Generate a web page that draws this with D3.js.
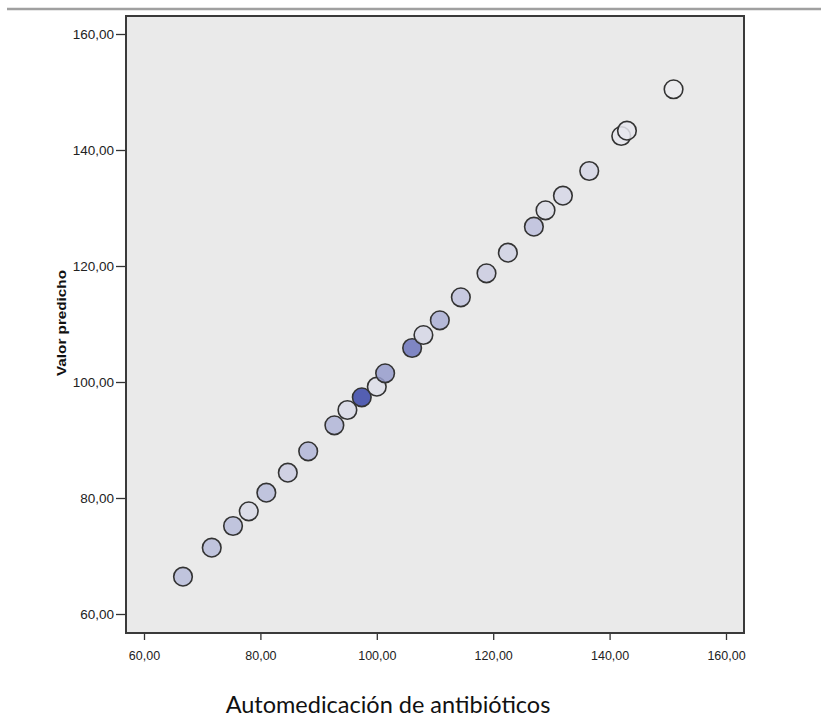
<!DOCTYPE html>
<html>
<head>
<meta charset="utf-8">
<script src="https://cdn.jsdelivr.net/npm/d3@7"></script>
<style>
    body { margin: 0; background: #fff; }
    svg { display: block; }
</style>
</head>
<body>
<div id="chart"></div>
<script>
const observed = [66.70, 71.64, 75.30, 78.00, 81.02, 84.71, 88.21, 92.71, 94.95, 97.42,
    100.00, 101.43, 106.07, 108.01, 110.83, 114.44, 118.85, 122.52, 126.99, 128.99,
    131.98, 136.50, 142.00, 142.98, 150.99];
const predicted = [66.43, 71.43, 75.17, 77.71, 80.91, 84.36, 88.05, 92.53, 95.17, 97.36,
    99.19, 101.50, 105.86, 108.10, 110.64, 114.60, 118.74, 122.30, 126.78, 129.60,
    132.12, 136.38, 142.41, 143.33, 150.47];
// shading intensity of each point (0 = pale, 1 = dark blue)
const intensity = [0.28, 0.28, 0.28, 0.10, 0.28, 0.18, 0.32, 0.32, 0.10, 1.00,
    0.08, 0.48, 0.72, 0.12, 0.36, 0.24, 0.18, 0.15, 0.26, 0.08,
    0.12, 0.12, 0.03, 0.03, 0.00];
const tickValues = [60, 80, 100, 120, 140, 160];

const xTitle = "Automedicación de antibióticos";
const yTitle = "Valor predicho";

const width = 821;
const height = 720;

// frame of the plot area
const frameLeft = 126;
const frameRight = 744;
const frameTop = 16;
const frameBottom = 633;

const locale = d3.formatLocale({ decimal: ",", thousands: ".", grouping: [3], currency: ["", ""] });
const fmt = locale.format(".2f");

const x = d3.scaleLinear().domain([60, 160]).range([144, 726]);
const y = d3.scaleLinear().domain([60, 160]).range([614, 34]);
const color = d3.scaleLinear().domain([0, 1]).range(["#ebebef", "#3a46a8"]);

const svg = d3.select("#chart")
    .append("svg")
    .attr("width", width)
    .attr("height", height);

// grey rule across the top
svg.append("line")
    .attr("x1", 7).attr("x2", width)
    .attr("y1", 9).attr("y2", 9)
    .attr("stroke", "#a0a0a0")
    .attr("stroke-width", 2.5);

// plot background
svg.append("rect")
    .attr("x", frameLeft).attr("y", frameTop)
    .attr("width", frameRight - frameLeft)
    .attr("height", frameBottom - frameTop)
    .attr("fill", "#eaeaea");

// axes
svg.append("g")
    .attr("transform", `translate(0,${frameBottom})`)
    .call(d3.axisBottom(x).tickValues(tickValues).tickFormat(fmt).tickSize(7).tickPadding(11))
    .call((g) => g.select(".domain").remove())
    .call((g) => g.selectAll("line").attr("stroke", "#333").attr("stroke-width", 1.3))
    .call((g) => g.selectAll("text")
        .attr("font-family", "Liberation Sans, Arial, sans-serif")
        .attr("font-size", 12.5)
        .attr("fill", "#222"));

svg.append("g")
    .attr("transform", `translate(${frameLeft},0)`)
    .call(d3.axisLeft(y).tickValues(tickValues).tickFormat(fmt).tickSize(10).tickPadding(2))
    .call((g) => g.select(".domain").remove())
    .call((g) => g.selectAll("line").attr("stroke", "#333").attr("stroke-width", 1.3))
    .call((g) => g.selectAll("text")
        .attr("font-family", "Liberation Sans, Arial, sans-serif")
        .attr("font-size", 13.5)
        .attr("fill", "#222"));

// points
svg.append("g")
    .selectAll("circle")
    .data(observed)
    .enter()
    .append("circle")
    .attr("cx", (d) => x(d))
    .attr("cy", (d, i) => y(predicted[i]))
    .attr("r", 9.3)
    .attr("fill", (d, i) => color(intensity[i]))
    .attr("fill-opacity", 0.85)
    .attr("stroke", "#333")
    .attr("stroke-width", 1.6);

// frame border
svg.append("rect")
    .attr("x", frameLeft).attr("y", frameTop)
    .attr("width", frameRight - frameLeft)
    .attr("height", frameBottom - frameTop)
    .attr("fill", "none")
    .attr("stroke", "#3a3a3a")
    .attr("stroke-width", 2);

// axis titles
svg.append("text")
    .attr("x", 388)
    .attr("y", 713)
    .attr("text-anchor", "middle")
    .attr("font-family", "Lato, 'Open Sans', sans-serif")
    .attr("font-size", 23.5)
    .attr("fill", "#111")
    .text(xTitle);

svg.append("text")
    .attr("transform", "translate(66,323) rotate(-90)")
    .attr("text-anchor", "middle")
    .attr("font-family", "Liberation Sans, Arial, sans-serif")
    .attr("font-weight", "bold")
    .attr("font-size", 12.5)
    .attr("textLength", 106)
    .attr("lengthAdjust", "spacingAndGlyphs")
    .attr("fill", "#111")
    .text(yTitle);
</script>
</body>
</html>
